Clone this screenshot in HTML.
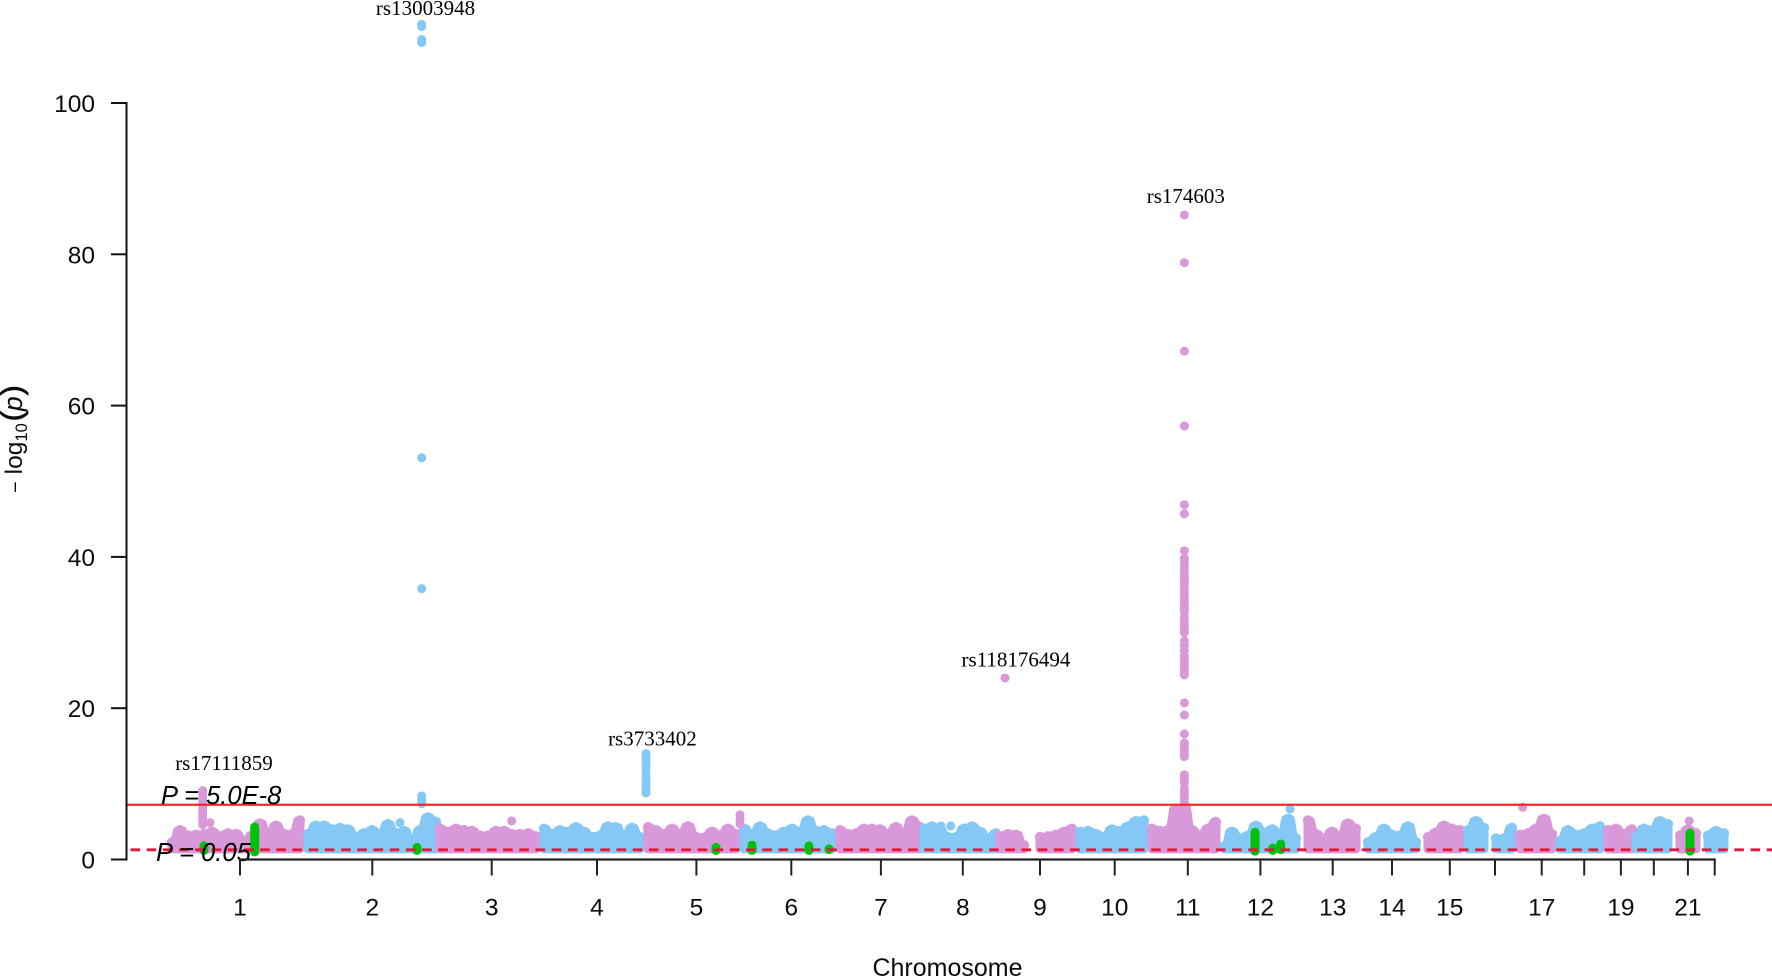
<!DOCTYPE html>
<html lang="en">
<head>
<meta charset="utf-8">
<title>Manhattan plot</title>
<style>
html,body{margin:0;padding:0;background:#fff;}
#chart{display:block;width:1772px;height:978px;background:#fff;}
text{font-family:"Liberation Sans",sans-serif;fill:#0c0c0c;}
.rs{font-family:"Liberation Serif",serif;font-size:21px;text-anchor:middle;fill:#000;}
.tick{font-size:24.5px;}
.pl{font-size:25.5px;font-style:italic;fill:#000;}
</style>
</head>
<body>
<svg id="chart" xmlns="http://www.w3.org/2000/svg" width="1772" height="978" viewBox="0 0 1772 978">
  <g id="mass"></g>
  <g id="dots"></g>
  <g id="green"></g>
  <g id="thresholds"></g>
  <g id="axes"></g>
  <g id="labels"></g>
  <text x="947.5" y="976" font-size="25" text-anchor="middle">Chromosome</text>
  <text transform="translate(22,493) rotate(-90)" font-size="24.5"><tspan font-size="20">−</tspan><tspan dx="7">log</tspan><tspan font-size="16.5" dy="5">10</tspan><tspan dx="2" dy="-5" font-size="30" stroke="#0c0c0c" stroke-width="0.8">(</tspan><tspan font-style="italic" font-size="27">p</tspan><tspan dx="1" font-size="30" stroke="#0c0c0c" stroke-width="0.8">)</tspan></text>
</svg>
<script>
// Y axis
const yTicks = [0, 20, 40, 60, 80, 100];
// X axis: cumulative position of each chromosome tick and its printed label
const xTickPositions = [228, 492.6, 731.4, 942, 1140.8, 1330.6, 1509.8, 1673.6, 1828, 1977.4, 2123.6, 2268.8, 2413.4, 2532, 2647.6, 2738, 2831.4, 2916.4, 2989.8, 3055.6, 3123.8, 3177.4];
const xTickLabels = ['1','2','3','4','5','6','7','8','9','10','11','12','13','14','15','','17','','19','','21',''];

// Thresholds (-log10 p)
const genomeWideLine = 7.24;
const suggestiveLine = 1.28;
const floorValue = 1.4;

// Per-segment envelope of the SNP mass: start position, series, top value in each bin
const binWidth = 16;
const segmentStarts = [92, 364, 628, 836, 1044, 1236, 1428, 1596, 1748, 1828, 1908, 2052, 2196, 2364, 2484, 2604, 2684, 2740, 2788, 2868, 2964, 3020, 3108, 3164];
const segmentSeries = ['plum','blue','plum','blue','plum','blue','plum','blue','plum','plum','blue','plum','blue','plum','blue','plum','blue','blue','plum','blue','plum','blue','plum','blue'];
const segmentValues = [
  [2.2,3.8,3.1,3.2,3.3,3.6,3.0,3.4,3.3,2.2,3.1,4.7,3.2,4.4,3.3,3.3,5.1],
  [3.3,4.4,4.4,3.9,4.1,3.9,2.9,3.4,3.8,3.2,4.6,3.4,3.7,2.2,3.8,5.5,4.9],
  [4.0,3.6,4.0,3.8,3.7,3.1,3.1,3.7,3.7,3.3,3.3,3.4,3.0],
  [4.0,3.3,3.8,3.6,4.2,3.6,2.9,3.1,4.3,4.2,2.9,4.1,2.9],
  [4.2,3.8,3.3,4.0,3.3,4.3,2.9,2.8,3.6,3.1,4.0,3.3],
  [4.0,3.2,4.3,3.4,3.1,3.6,4.0,3.6,5.1,3.7,3.8,3.4],
  [3.8,3.3,3.4,4.0,4.0,3.9,3.3,4.2,3.1,5.1,4.2],
  [4.0,4.3,3.8,2.9,2.9,4.0,4.3,3.6,2.7,3.4],
  [3.0,3.3,3.2,1.8],
  [2.9,3.0,3.2,3.6,4.0],
  [3.6,3.7,3.3,2.9,3.9,3.7,4.3,5.0,5.1],
  [4.0,3.7,3.8,6.6,6.9,3.8,3.1,4.0,4.9],
  [1.6,3.6,2.7,3.1,4.4,3.4,3.9,3.1,5.3,2.7],
  [5.1,3.3,2.7,3.6,2.9,4.7,4.0],
  [2.2,2.9,4.0,3.2,3.1,4.3,2.2],
  [2.9,3.5,4.4,4.0,3.8],
  [3.8,5.0,4.1],
  [2.7,2.7,4.1],
  [3.2,3.4,4.0,5.3,3.3],
  [2.4,3.8,3.2,3.4,4.0,4.3],
  [3.8,4.0,3.3,3.9],
  [2.9,4.0,3.8,5.0,4.6],
  [3.1,3.9,3.4],
  [3.1,3.7,3.4]
];

// Vertical spikes: position, series, and individual SNP values
const chr1SpikeValues = [9.1,8.6,8.1,7.6,7.1,6.6,6.1,5.6,5.1,4.6];
const chr2SpikeValues = [110.4,110.1,108.4,108.0,53.1,35.8,8.4,7.9,7.4];
const chr4SpikeValues = [14.0,13.4,12.8,12.2,11.6,11.0,10.6,10.0,9.6,9.1,8.8];
const chr11SpikeValues = [85.2,78.9,67.2,57.3,46.9,45.7,40.8,39.8,39.3,38.8,38.2,37.7,37.2,36.7,36.2,35.6,35.1,34.6,34.1,33.6,33.1,32.7,32.0,31.5,31.0,30.5,30.0,28.9,28.3,27.6,26.9,26.4,25.9,25.4,24.9,24.4,20.7,19.1,16.6,15.4,15.0,14.5,14.0,13.6,11.2,10.7,10.2,9.4,8.9,8.4,7.9,7.4,6.9,6.4];
const spikePositions = [153.4, 591.4, 1040, 2116.8];
const spikeSeries = ['plum','blue','blue','plum'];
const spikeValues = [chr1SpikeValues, chr2SpikeValues, chr4SpikeValues, chr11SpikeValues];

// Isolated SNPs above the mass
const loneDotPositions = [168, 771.4, 1228, 1228, 1228, 2793.4, 3126.6, 1758, 548, 1630, 1649.4, 2328];
const loneDotValues = [4.87, 5.09, 5.9, 5.3, 4.7, 6.9, 5.09, 24.0, 4.87, 4.43, 4.43, 6.67];
const loneDotSeries = ['plum','plum','plum','plum','plum','plum','plum','plum','blue','blue','blue','blue'];

// Green highlighted loci: position, highest and lowest value
const greenPositions = [156, 257.4, 582, 1180, 1252, 1366, 1406, 2258, 2293.4, 2309.4, 3128];
const greenHigh = [1.8, 4.3, 1.6, 1.6, 1.9, 1.8, 1.4, 3.6, 1.5, 2.05, 3.5];
const greenLow = [1.2, 1.0, 1.2, 1.2, 1.2, 1.2, 1.3, 1.1, 1.2, 1.3, 1.1];

// Lead SNP annotations
const snpNames = ['rs13003948','rs174603','rs118176494','rs3733402','rs17111859'];
const snpNamePositions = [599, 2119.6, 1780, 1052.8, 196];
const snpNameValues = [111.65, 86.8, 25.5, 15.1, 11.85];

const seriesColor = {plum: '#d998da', blue: '#85c8f6'};
const dotRadius = 4.5;
const svgNS = 'http://www.w3.org/2000/svg';

function xScale(u) { return 126 + u * 0.5; }
function yScale(v) { return 859.5 - v * 7.565; }

function make(tag, parentId, attrs) {
  const node = document.createElementNS(svgNS, tag);
  for (const k in attrs) node.setAttribute(k, attrs[k]);
  document.getElementById(parentId).appendChild(node);
  return node;
}

// SNP mass: one filled envelope per segment with a short plateau on each bin
segmentValues.forEach(function (vals, s) {
  const first = xScale(segmentStarts[s]);
  const last = xScale(segmentStarts[s] + (vals.length - 1) * binWidth);
  let d = 'M' + first + ' ' + yScale(floorValue);
  vals.forEach(function (v, i) {
    const u = segmentStarts[s] + i * binWidth;
    const left = i === 0 ? u : u - binWidth * 0.3;
    const right = i === vals.length - 1 ? u : u + binWidth * 0.3;
    d += ' L' + xScale(left) + ' ' + yScale(v) + ' L' + xScale(right) + ' ' + yScale(v);
  });
  d += ' L' + last + ' ' + yScale(floorValue) + ' Z';
  const area = make('path', 'mass', {
    d: d, fill: seriesColor[segmentSeries[s]], stroke: seriesColor[segmentSeries[s]],
    'stroke-width': dotRadius * 2, 'stroke-linejoin': 'round'
  });
  
  
  vals.forEach(function (v, i) {
    const c = make('circle', 'mass', {
      cx: xScale(segmentStarts[s] + i * binWidth), cy: yScale(v) - 0.6, r: dotRadius + 0.6,
      fill: seriesColor[segmentSeries[s]]
    });
    
    
  });
});

// Spikes
spikeValues.forEach(function (vals, s) {
  vals.forEach(function (v) {
    const c = make('circle', 'dots', {
      cx: xScale(spikePositions[s]), cy: yScale(v), r: dotRadius,
      fill: seriesColor[spikeSeries[s]]
    });
    
    
  });
});

// Lone dots
loneDotValues.forEach(function (v, i) {
  const c = make('circle', 'dots', {
    cx: xScale(loneDotPositions[i]), cy: yScale(v), r: dotRadius,
    fill: seriesColor[loneDotSeries[i]]
  });
  
  
});

// Green loci
greenPositions.forEach(function (u, i) {
  const g = make('line', 'green', {
    x1: xScale(u), x2: xScale(u), y1: yScale(greenLow[i]), y2: yScale(greenHigh[i]),
    stroke: '#00c20c', 'stroke-width': dotRadius * 2, 'stroke-linecap': 'round'
  });
  
  
});

// Threshold lines
const solid = make('line', 'thresholds', {
  x1: 126, x2: 1772, y1: yScale(genomeWideLine), y2: yScale(genomeWideLine),
  stroke: '#ee2b2b', 'stroke-width': 2.3
});


const dashed = make('line', 'thresholds', {
  x1: 126, x2: 1772, y1: yScale(suggestiveLine), y2: yScale(suggestiveLine),
  stroke: '#e8173a', 'stroke-width': 2.8, 'stroke-dasharray': '9.6 6.6', 'stroke-dashoffset': 11.7
});


const pLabel1 = make('text', 'thresholds', {x: 161, y: 804, class: 'pl'});
pLabel1.textContent = 'P = 5.0E-8';


const pLabel2 = make('text', 'thresholds', {x: 156, y: 861, class: 'pl'});
pLabel2.textContent = 'P = 0.05';



// Y axis
const yLine = make('line', 'axes', {
  x1: 126.5, x2: 126.5, y1: yScale(yTicks[yTicks.length - 1]) - 1, y2: yScale(yTicks[0]) + 1,
  stroke: '#111', 'stroke-width': 2
});


yTicks.forEach(function (t) {
  const m = make('line', 'axes', {x1: 111, x2: 127, y1: yScale(t), y2: yScale(t), stroke: '#111', 'stroke-width': 2});
  
  
  const lab = make('text', 'axes', {x: 95, y: yScale(t) + 9, 'text-anchor': 'end', class: 'tick'});
  lab.textContent = String(t);
  
  
});

// X axis
const xLine = make('line', 'axes', {
  x1: xScale(xTickPositions[0]) - 1, x2: xScale(xTickPositions[xTickPositions.length - 1]) + 1,
  y1: 859.5, y2: 859.5, stroke: '#222', 'stroke-width': 2.2
});


xTickPositions.forEach(function (u, i) {
  const m = make('line', 'axes', {x1: xScale(u), x2: xScale(u), y1: 859.5, y2: 875.5, stroke: '#222', 'stroke-width': 2});
  
  
  if (xTickLabels[i]) {
    const lab = make('text', 'axes', {x: xScale(u), y: 915.5, 'text-anchor': 'middle', class: 'tick'});
    lab.textContent = xTickLabels[i];
    
    
  }
});

// SNP name labels
snpNames.forEach(function (name, i) {
  const t = make('text', 'labels', {x: xScale(snpNamePositions[i]), y: yScale(snpNameValues[i]), class: 'rs'});
  t.textContent = name;
  
  
});
</script>
</body>
</html>
